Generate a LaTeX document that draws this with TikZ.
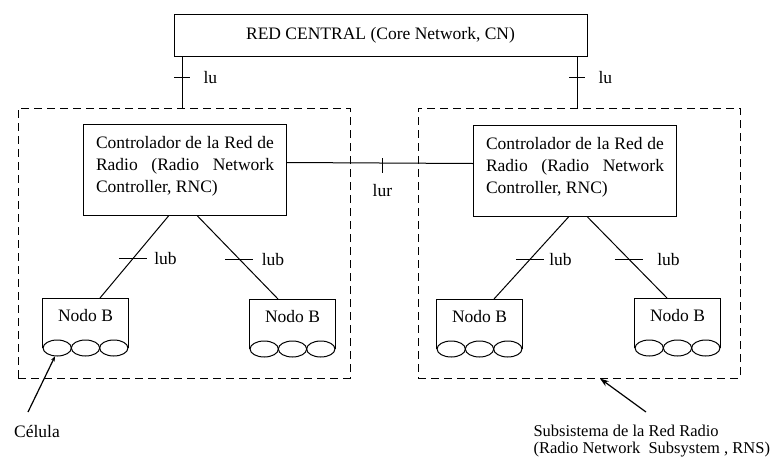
\documentclass[tikz,border=0pt]{standalone}
\usepackage{fontspec}
\setmainfont{Liberation Serif}
\usetikzlibrary{shapes.geometric,calc,arrows.meta}

\begin{document}
\begin{tikzpicture}[x=1pt, y=-1pt, line width=1pt,
    every node/.style={font=\fontsize{17.5}{22}\selectfont},
    caja/.style={draw, inner sep=0pt},
    rnsbox/.style={draw, dash pattern=on 8pt off 5pt, minimum height=270pt},
    rncbox/.style={draw, anchor=north west, minimum width=203pt, minimum height=91pt,
                   text width=178pt, align=justify, inner xsep=12.5pt, inner ysep=0pt,
                   text height=24pt, text depth=67pt},
    nodob/.style={anchor=north, minimum width=85pt, inner xsep=0pt, inner ysep=0pt,
                  text height=23pt, text depth=26pt},
    celda/.style={ellipse, draw, minimum width=28.3pt, minimum height=16pt, inner sep=0pt},
    etiq/.style={anchor=west, inner sep=0pt},
    flecha/.style={-{Stealth[length=9pt,width=6pt]}, line width=1.2pt},
  ]
  \useasboundingbox (0,0) rectangle (774,458);

  \node[caja, minimum width=413pt, minimum height=42pt] (cn) at (380.5,35) {RED CENTRAL (Core Network, CN)};
  \node[rnsbox, minimum width=332pt] (rns1) at (184,243) {};
  \node[rnsbox, minimum width=322pt] (rns2) at (579,243) {};

  \node[rncbox] (rnc1) at (83,124) {Controlador de la Red de\linebreak Radio (Radio Network\linebreak Controller, RNC)};
  \node[rncbox] (rnc2) at (473,125) {Controlador de la Red de\linebreak Radio (Radio Network\linebreak Controller, RNC)};

  \node[nodob] (nb1) at (85.5,298) {Nodo B};
  \node[nodob] (nb2) at (292.5,299) {Nodo B};
  \node[nodob] (nb3) at (479.5,299) {Nodo B};
  \node[nodob] (nb4) at (677.5,298) {Nodo B};
  \foreach \n in {nb1,nb2,nb3,nb4}{
    \draw (\n.south west) |- (\n.north east) -- (\n.south east);
    \foreach \i/\dx in {1/-28.3,2/0,3/28.3}
      \node[celda] (\n c\i) at ([xshift=\dx pt]\n.south) {};
  }

  % Iu
  \coordinate (iu1) at (182,0);
  \coordinate (iu2) at (577,0);
  \foreach \c/\r in {iu1/rns1,iu2/rns2}{
    \draw (\c |- cn.south) -- (\c |- \r.north) coordinate[pos=0.42] (t\c);
    \draw ([xshift=-8pt]t\c) -- ([xshift=8pt]t\c);
    \node[etiq] (l\c) at ([xshift=21pt]t\c) {lu};
  }

  % Iur
  \draw ([yshift=7.5pt]rnc1.east) -- ([yshift=7.5pt]rnc2.west) coordinate[pos=0.513] (tur);
  \draw ([yshift=5pt]tur) -- ([yshift=-10pt]tur);
  \node[anchor=north, inner sep=0pt] (lur) at ([yshift=-21pt]tur) {lur};

  % Iub
  \foreach \a/\da/\b/\db/\k/\dl in {rnc1/-16.5/nb1/14.5/1/21, rnc1/12.5/nb2/-14.5/2/22,
                                    rnc2/-6.5/nb3/14.5/3/19, rnc2/12.5/nb4/-10.5/4/28}{
    \draw ([xshift=\da pt]\a.south) -- ([xshift=\db pt]\b.north) coordinate[pos=0.52] (tb\k);
    \draw ([xshift=-14pt]tb\k) -- ([xshift=14pt]tb\k);
    \node[etiq] (lub\k) at ([xshift=\dl pt]tb\k) {lub};
  }

  \node[inner sep=0pt] (celula) at (37,431) {Célula};
  \coordinate (celcola) at (28,412);
  \draw[-{Stealth[length=5pt,width=4pt]}, line width=1.2pt] (celcola) -- (nb1c1.-105);

  \node[anchor=north west, align=left, inner sep=0pt, font=\fontsize{16.5}{17.5}\selectfont]
    (rnstxt) at (533,424.5) {Subsistema de la Red Radio\\(Radio Network\ \ Subsystem , RNS)};
  \coordinate (rnscola) at (646,412);
  \draw[flecha] (rnscola) -- ($(rns2.south west)!0.565!(rns2.south east)$);
\end{tikzpicture}
\end{document}
